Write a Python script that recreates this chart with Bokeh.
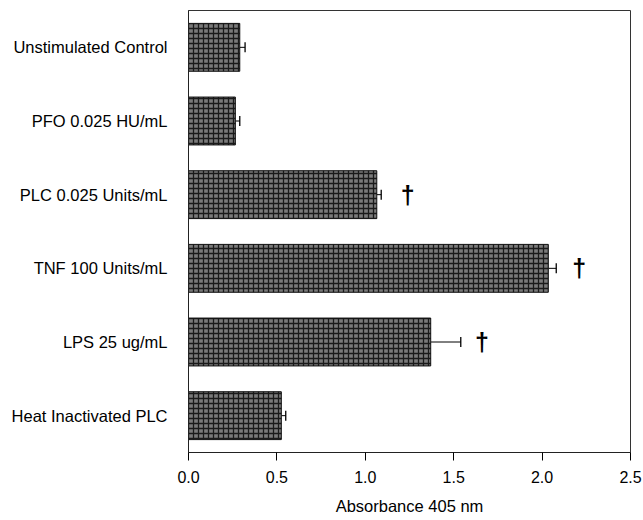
from bokeh.plotting import figure
from bokeh.models import ColumnDataSource, Whisker, TeeHead, FactorRange, FixedTicker, NumeralTickFormatter
from bokeh.core.properties import value
from bokeh.embed import file_html
from bokeh.resources import INLINE

categories = ["Unstimulated Control", "PFO 0.025 HU/mL", "PLC 0.025 Units/mL",
              "TNF 100 Units/mL", "LPS 25 ug/mL", "Heat Inactivated PLC"]
absorbance = [0.29, 0.265, 1.065, 2.035, 1.37, 0.525]
error = [0.03, 0.025, 0.025, 0.045, 0.17, 0.025]
dagger_cats = ["PLC 0.025 Units/mL", "TNF 100 Units/mL", "LPS 25 ug/mL"]
dagger_x = [1.24, 2.21, 1.66]
x_ticks = [0.0, 0.5, 1.0, 1.5, 2.0, 2.5]

FONT = "Liberation Sans"

src = ColumnDataSource(dict(
    cat=categories,
    val=absorbance,
    upper=[v + e for v, e in zip(absorbance, error)],
))

p = figure(width=643, height=520, output_backend="svg", toolbar_location=None,
           y_range=FactorRange(*list(reversed(categories)), range_padding=0),
           x_range=(0, 2.5),
           min_border_left=188, min_border_right=13, min_border_top=10, min_border_bottom=68)

p.hbar(y="cat", right="val", left=0, height=0.65, source=src,
       fill_color="#7a7a7a", line_color="#111111", line_width=1,
       hatch_pattern="+", hatch_color="#1a1a1a", hatch_scale=5, hatch_weight=1.3)

w = Whisker(base="cat", lower="val", upper="upper", dimension="width", source=src,
            line_color="black", line_width=1,
            upper_head=TeeHead(size=10, line_color="black", line_width=1.3), lower_head=None)
p.add_layout(w)

p.text(x=dagger_x, y=dagger_cats, text=["\u2020"] * 3,
       text_font=value(FONT), text_font_size="25px", text_font_style="bold",
       text_align="center", text_baseline="middle", text_color="black")

p.xgrid.visible = False
p.ygrid.visible = False
p.outline_line_color = "#333333"
p.outline_line_width = 1

p.xaxis.ticker = FixedTicker(ticks=x_ticks)
p.xaxis.formatter = NumeralTickFormatter(format="0.0")
p.xaxis.minor_tick_line_color = None
p.xaxis.major_tick_in = 0
p.xaxis.major_tick_out = 8
p.xaxis.major_label_standoff = 10
p.xaxis.axis_label = "Absorbance 405 nm"
p.xaxis.axis_label_standoff = 11
p.xaxis.axis_label_text_font = FONT
p.xaxis.axis_label_text_font_size = "16.5px"
p.xaxis.axis_label_text_font_style = "normal"
p.xaxis.axis_label_text_color = "black"
p.xaxis.major_label_text_font = FONT
p.xaxis.major_label_text_font_size = "16px"

p.yaxis.major_tick_line_color = None
p.yaxis.minor_tick_line_color = None
p.yaxis.major_label_standoff = 15
p.yaxis.major_label_text_font = FONT
p.yaxis.major_label_text_font_size = "16.5px"

for ax in (p.xaxis, p.yaxis):
    ax.axis_line_color = "#222222"
    ax.major_label_text_color = "black"

open("out.html", "w").write(file_html(p, INLINE))
